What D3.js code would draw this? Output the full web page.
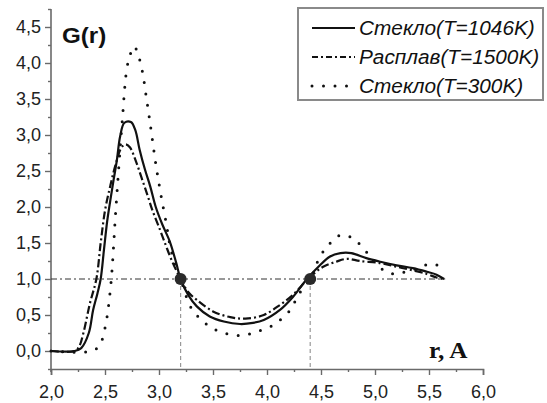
<!DOCTYPE html>
<html>
<head>
<meta charset="utf-8">
<script src="https://cdn.jsdelivr.net/npm/d3@7"></script>
<style>
  html, body { margin: 0; padding: 0; background: #fff; }
  svg { display: block; }
</style>
</head>
<body>
<svg id="chart" width="547" height="403"></svg>
<script>
// ---- data ----
const seriesNames = ["Стекло(T=1046K)", "Расплав(T=1500K)", "Стекло(T=300K)"];

const rGlass1046 = [2.0, 2.22, 2.28, 2.35, 2.39, 2.43, 2.46, 2.49, 2.52, 2.55, 2.58, 2.61, 2.64, 2.68, 2.74, 2.78, 2.82, 2.87, 2.92, 2.97, 3.03, 3.10, 3.16, 3.20, 3.27, 3.35, 3.47, 3.60, 3.75, 3.87, 3.97, 4.12, 4.24, 4.37, 4.49, 4.58, 4.68, 4.78, 4.92, 5.05, 5.20, 5.35, 5.48, 5.57, 5.64];
const gGlass1046 = [0.0, 0.0, 0.04, 0.25, 0.57, 0.80, 1.0, 1.40, 1.80, 2.10, 2.38, 2.65, 2.98, 3.17, 3.18, 3.07, 2.80, 2.52, 2.28, 2.00, 1.76, 1.52, 1.22, 1.0, 0.78, 0.62, 0.48, 0.41, 0.375, 0.39, 0.43, 0.57, 0.75, 1.0, 1.19, 1.31, 1.36, 1.36, 1.29, 1.24, 1.19, 1.15, 1.10, 1.06, 1.0];

const rMelt1500 = [2.0, 2.22, 2.26, 2.30, 2.36, 2.42, 2.46, 2.50, 2.55, 2.60, 2.65, 2.69, 2.73, 2.79, 2.84, 2.89, 2.94, 3.00, 3.06, 3.12, 3.20, 3.27, 3.35, 3.50, 3.66, 3.80, 3.97, 4.12, 4.24, 4.38, 4.52, 4.64, 4.74, 4.86, 5.05, 5.20, 5.35, 5.48, 5.57, 5.63];
const gMelt1500 = [0.0, 0.0, 0.06, 0.25, 0.66, 1.0, 1.50, 1.95, 2.30, 2.60, 2.82, 2.87, 2.83, 2.62, 2.40, 2.18, 1.95, 1.72, 1.48, 1.25, 1.0, 0.82, 0.71, 0.55, 0.47, 0.45, 0.50, 0.64, 0.78, 1.0, 1.17, 1.24, 1.28, 1.25, 1.22, 1.17, 1.12, 1.07, 1.02, 1.0];

const rGlass300 = [2.0, 2.38, 2.45, 2.50, 2.55, 2.60, 2.63, 2.66, 2.70, 2.73, 2.77, 2.82, 2.85, 2.88, 2.92, 2.97, 3.02, 3.07, 3.10, 3.14, 3.20, 3.29, 3.38, 3.49, 3.60, 3.70, 3.80, 3.90, 4.01, 4.12, 4.22, 4.29, 4.40, 4.49, 4.58, 4.68, 4.79, 4.89, 4.99, 5.09, 5.19, 5.30, 5.40, 5.51, 5.62];
const gGlass300 = [0.0, 0.0, 0.08, 0.32, 0.86, 1.96, 2.60, 3.20, 3.90, 4.10, 4.23, 4.05, 3.85, 3.55, 3.14, 2.60, 2.15, 1.75, 1.48, 1.25, 1.0, 0.62, 0.45, 0.32, 0.25, 0.22, 0.22, 0.27, 0.32, 0.43, 0.58, 0.78, 1.0, 1.31, 1.49, 1.61, 1.57, 1.43, 1.25, 1.11, 1.07, 1.11, 1.15, 1.21, 1.17];

const crossR = [3.2, 4.4];
const crossG = [1.0, 1.0];
const refLevel = 1.0;
const refEndR = 5.65;

const xTicks = [2.0, 2.5, 3.0, 3.5, 4.0, 4.5, 5.0, 5.5, 6.0];
const yTicks = [0.0, 0.5, 1.0, 1.5, 2.0, 2.5, 3.0, 3.5, 4.0, 4.5];
const xMinor = [2.25, 2.75, 3.25, 3.75, 4.25, 4.75, 5.25, 5.75];
const yMinor = [-0.25, 0.25, 0.75, 1.25, 1.75, 2.25, 2.75, 3.25, 3.75, 4.25, 4.75];

const yLabel = "G(r)";
const xLabel = "r, A";

// ---- chart ----
const svg = d3.select("#chart");
const x = d3.scaleLinear().domain([2.0, 6.0]).range([51, 483]);
const y = d3.scaleLinear().domain([-0.25, 4.75]).range([369, 9]);
const fmt = d => d3.format(".1f")(d).replace(".", ",");
const axisColor = "#6a6a6a";
const textColor = "#222";

// axes
const gx = svg.append("g").attr("transform", `translate(0,${y(-0.25)})`)
  .call(d3.axisBottom(x).tickValues(xTicks).tickFormat(fmt).tickSize(6).tickPadding(6));
gx.append("g").call(d3.axisBottom(x).tickValues(xMinor).tickFormat("").tickSize(3))
  .select(".domain").remove();
const gy = svg.append("g").attr("transform", `translate(${x(2.0)},0)`)
  .call(d3.axisLeft(y).tickValues(yTicks).tickFormat(fmt).tickSize(6).tickPadding(4));
gy.append("g").call(d3.axisLeft(y).tickValues(yMinor).tickFormat("").tickSize(3))
  .select(".domain").remove();

[gx, gy].forEach(g => {
  g.selectAll("path.domain").attr("stroke", axisColor).attr("stroke-width", 1.6);
  g.selectAll(".tick line").attr("stroke", axisColor).attr("stroke-width", 1.4);
  g.selectAll(".tick text").attr("fill", textColor)
    .style("font-family", "Liberation Sans, Arial, sans-serif").style("font-size", "18px");
});
gy.select("path.domain").attr("d", `M0,${y(4.75)}V${y(-0.25) + 3}`);
gx.selectAll(".tick text").attr("dy", "0.95em");

// reference lines
svg.append("line")
  .attr("x1", x(2.0)).attr("x2", x(refEndR))
  .attr("y1", y(refLevel)).attr("y2", y(refLevel))
  .attr("stroke", "#333").attr("stroke-width", 1)
  .attr("stroke-dasharray", "6,3,2,3");

svg.selectAll("line.vref").data(crossR).enter().append("line")
  .attr("class", "vref")
  .attr("x1", d => x(d)).attr("x2", d => x(d))
  .attr("y1", y(refLevel)).attr("y2", y(-0.25))
  .attr("stroke", "#999").attr("stroke-width", 1.2)
  .attr("stroke-dasharray", "4,3");

// curves
const line = d3.line().x(d => x(d[0])).y(d => y(d[1])).curve(d3.curveCatmullRom.alpha(0.5));
const zip = (a, b) => a.map((v, i) => [v, b[i]]);

const styles = [
  { dash: null, width: 2.2, cap: "butt" },
  { dash: "8,3,2,3", width: 2.2, cap: "butt" },
  { dash: "0,11.5", width: 3, cap: "round" }
];
const data = [zip(rGlass1046, gGlass1046), zip(rMelt1500, gMelt1500), zip(rGlass300, gGlass300)];

data.forEach((d, i) => {
  svg.append("path").datum(d)
    .attr("d", line)
    .attr("fill", "none")
    .attr("stroke", "#111")
    .attr("stroke-width", styles[i].width)
    .attr("stroke-linecap", styles[i].cap)
    .attr("stroke-dasharray", styles[i].dash);
});

// crossing dots
svg.selectAll("circle.cross").data(zip(crossR, crossG)).enter().append("circle")
  .attr("class", "cross")
  .attr("cx", d => x(d[0])).attr("cy", d => y(d[1])).attr("r", 6)
  .attr("fill", "#2a2a2a");

// axis titles
svg.append("text").attr("transform", "translate(62,43) scale(1.1,1)")
  .style("font-family", "Liberation Sans, Arial, sans-serif")
  .style("font-size", "22px").style("font-weight", "bold")
  .attr("fill", "#111").text(yLabel);
svg.append("text").attr("transform", "translate(429,358) scale(1.1,1)")
  .style("font-family", "Liberation Serif, Times New Roman, serif")
  .style("font-size", "23px").style("font-weight", "bold")
  .attr("fill", "#111").text(xLabel);

// legend
const lg = svg.append("g");
lg.append("rect").attr("x", 298).attr("y", 8).attr("width", 245).attr("height", 92)
  .attr("fill", "#fff").attr("stroke", "#8a8a8a").attr("stroke-width", 2);
const rowsY = [28, 57, 86];
seriesNames.forEach((name, i) => {
  lg.append("line").attr("x1", 312).attr("x2", 355)
    .attr("y1", rowsY[i]).attr("y2", rowsY[i])
    .attr("stroke", "#111")
    .attr("stroke-width", styles[i].width)
    .attr("stroke-linecap", styles[i].cap)
    .attr("stroke-dasharray", i === 1 ? "6,3,2,3" : styles[i].dash);
  lg.append("text").attr("transform", `translate(359,${rowsY[i]}) scale(1.04,1)`)
    .attr("dy", "0.36em")
    .style("font-family", "Liberation Sans, Arial, sans-serif")
    .style("font-size", "20px").style("font-style", "italic")
    .attr("fill", "#111").text(name);
});
</script>
</body>
</html>
